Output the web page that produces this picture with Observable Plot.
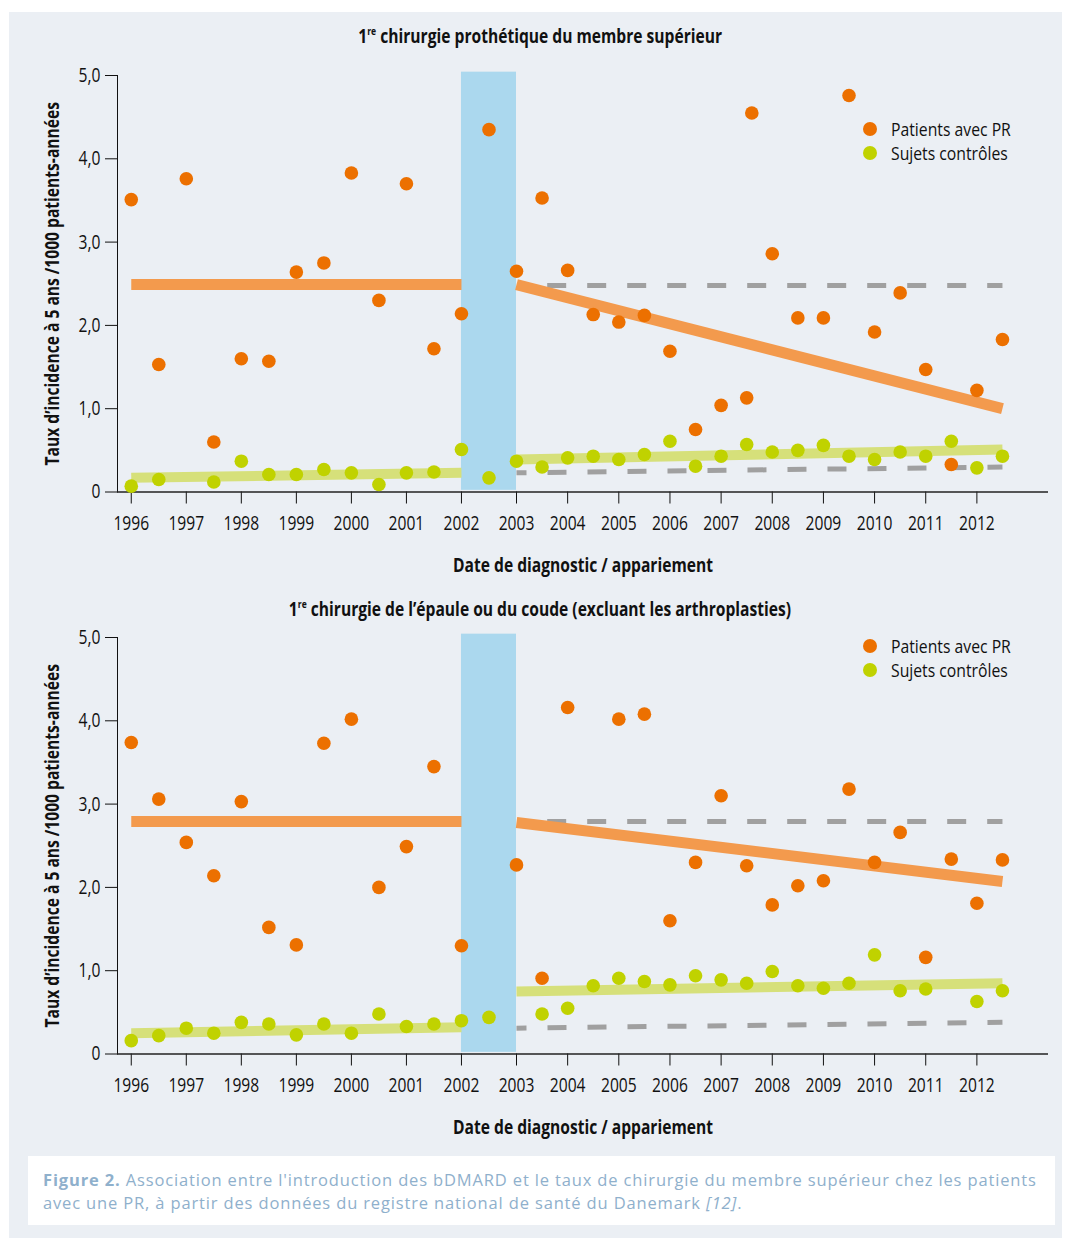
<!DOCTYPE html>
<html><head><meta charset="utf-8">
<script src="https://cdn.jsdelivr.net/npm/d3@7"></script>
<script src="https://cdn.jsdelivr.net/npm/@observablehq/plot@0.6"></script>
<style>
body{margin:0;background:#fff;width:1065px;height:1238px;position:relative;overflow:hidden}
#panel{position:absolute;left:9px;top:12px;width:1053px;height:1226px;background:#EBEFF4;
  font-family:"Open Sans",sans-serif;color:#111}
.title{position:absolute;left:0;width:1062px;text-align:center;font-weight:bold;font-size:20px;line-height:24px}
.title span{display:inline-block;transform:scaleX(0.78);transform-origin:center;white-space:nowrap}
.title sup{font-size:11px;vertical-align:8px;line-height:0}
.chart{position:absolute;left:0}
.legend{position:absolute;left:853px;font-size:17.5px;line-height:24px}
.legend div{position:relative;height:24px;white-space:nowrap}
.legend .dot{position:absolute;left:1px;top:5px;width:14px;height:14px;border-radius:50%}
.legend .txt{position:absolute;left:29px;top:0;display:inline-block;transform:scaleX(0.9);transform-origin:left center}
#caption{position:absolute;left:19px;top:1144px;width:1027px;height:69px;background:#fff;
  font-family:"Open Sans",sans-serif;font-size:16.5px;letter-spacing:0.85px;line-height:23px;color:#8FB0CC;
  box-sizing:border-box;padding:12px 0 0 15px;white-space:nowrap}
</style></head>
<body>
<div id="panel">
  <div class="title" style="top:12px"><span>1<sup>re</sup> chirurgie prothétique du membre supérieur</span></div>
  <div class="chart" id="c1" style="top:38px"></div>
  <div class="legend" style="top:105px"><div><span class="dot" style="background:#EC7000"></span><span class="txt">Patients avec PR</span></div><div><span class="dot" style="background:#C0D200"></span><span class="txt">Sujets contrôles</span></div></div>
  <div class="title" style="top:585px"><span>1<sup>re</sup> chirurgie de l’épaule ou du coude (excluant les arthroplasties)</span></div>
  <div class="chart" id="c2" style="top:599.5px"></div>
  <div class="legend" style="top:622px"><div><span class="dot" style="background:#EC7000"></span><span class="txt">Patients avec PR</span></div><div><span class="dot" style="background:#C0D200"></span><span class="txt">Sujets contrôles</span></div></div>
  <div id="caption"><b>Figure 2.</b> Association entre l'introduction des bDMARD et le taux de chirurgie du membre supérieur chez les patients<br>avec une PR, à partir des données du registre national de santé du Danemark <i>[12]</i>.</div>
</div>
<script>
// ---- data ----
const yearTicks = [1996,1997,1998,1999,2000,2001,2002,2003,2004,2005,2006,2007,2008,2009,2010,2011,2012];
const yValueTicks = [0,1,2,3,4,5];
const bandYears = [2002, 2003];

// Chart 1: 1re chirurgie prothétique du membre supérieur
const topPrX = [1996,1996.5,1997,1997.5,1998,1998.5,1999,1999.5,2000,2000.5,2001,2001.5,2002,2002.5,2003,2003.5,2004,2004.5,2005,2005.5,2006,2006.5,2007,2007.5,2007.6,2008,2008.5,2009,2009.5,2010,2010.5,2011,2011.5,2012,2012.5];
const topPrY = [3.51,1.53,3.76,0.60,1.60,1.57,2.64,2.75,3.83,2.30,3.70,1.72,2.14,4.35,2.65,3.53,2.66,2.13,2.04,2.12,1.69,0.75,1.04,1.13,4.55,2.86,2.09,2.09,4.76,1.92,2.39,1.47,0.33,1.22,1.83];
const topCtlX = [1996,1996.5,1997.5,1998,1998.5,1999,1999.5,2000,2000.5,2001,2001.5,2002,2002.5,2003,2003.5,2004,2004.5,2005,2005.5,2006,2006.5,2007,2007.5,2008,2008.5,2009,2009.5,2010,2010.5,2011,2011.5,2012,2012.5];
const topCtlY = [0.07,0.15,0.12,0.37,0.21,0.21,0.27,0.23,0.09,0.23,0.24,0.51,0.17,0.37,0.30,0.41,0.43,0.39,0.45,0.61,0.31,0.43,0.57,0.48,0.50,0.56,0.43,0.39,0.48,0.43,0.61,0.29,0.43];
const topTrendPrPre = [2.49, 2.49], topTrendPrPost = [2.49, 1.00];
const topTrendCtlPre = [0.17, 0.23], topTrendCtlPost = [0.39, 0.51];
const topExpectedPr = [2.48, 2.48], topExpectedCtl = [0.23, 0.30];

// Chart 2: 1re chirurgie de l'épaule ou du coude
const botPrX = [1996,1996.5,1997,1997.5,1998,1998.5,1999,1999.5,2000,2000.5,2001,2001.5,2002,2003,2003.5,2004,2005,2005.5,2006,2006.5,2007,2007.5,2008,2008.5,2009,2009.5,2010,2010.5,2011,2011.5,2012,2012.5];
const botPrY = [3.74,3.06,2.54,2.14,3.03,1.52,1.31,3.73,4.02,2.00,2.49,3.45,1.30,2.27,0.91,4.16,4.02,4.08,1.60,2.30,3.10,2.26,1.79,2.02,2.08,3.18,2.30,2.66,1.16,2.34,1.81,2.33];
const botCtlX = [1996,1996.5,1997,1997.5,1998,1998.5,1999,1999.5,2000,2000.5,2001,2001.5,2002,2002.5,2003.5,2004,2004.5,2005,2005.5,2006,2006.5,2007,2007.5,2008,2008.5,2009,2009.5,2010,2010.5,2011,2012,2012.5];
const botCtlY = [0.16,0.22,0.31,0.25,0.38,0.36,0.23,0.36,0.25,0.48,0.33,0.36,0.40,0.44,0.48,0.55,0.82,0.91,0.87,0.83,0.94,0.89,0.85,0.99,0.82,0.79,0.85,1.19,0.76,0.78,0.63,0.76];
const botTrendPrPre = [2.79, 2.79], botTrendPrPost = [2.78, 2.07];
const botTrendCtlPre = [0.25, 0.32], botTrendCtlPost = [0.75, 0.85];
const botExpectedPr = [2.79, 2.79], botExpectedCtl = [0.31, 0.38];

const preYears = [1996, 2002], postYears = [2003, 2012.5], expPrYears = [2003.6, 2012.5];
const yLabel = "Taux d’incidence à 5 ans /1000 patients-années";
const xLabel = "Date de diagnostic / appariement";

// ---- colours ----
const C = {pr:"#EC7000", prLine:"#F39A4D", ctl:"#C0D200", ctlLine:"#D6E07A", band:"#ABD8EE", dash:"#A0A0A0"};
const FONT = '"Open Sans",sans-serif';

const zip = (xs, ys) => xs.map((x, i) => ({x, y: ys[i]}));

function makeChart(d) {
  const seg = (xs, ys, opts) => Plot.line(zip(xs, ys), {x:"x", y:"y", strokeLinecap:"butt", ...opts});
  return Plot.plot({
    width: 1053, height: 530,
    marginLeft: 108, marginRight: 14, marginTop: 25, marginBottom: 88.5,
    style: {fontFamily: FONT, fontSize: "20px", color: "#111", background: "transparent", overflow: "visible"},
    x: {type: "linear", domain: [1995.75, 2003, 2013.4], range: [108, 507, 1039], ticks: yearTicks,
        tickFormat: d => String(d), tickSize: 12, tickPadding: 12, label: null},
    y: {domain: [0, 5], ticks: yValueTicks, tickSize: 12, tickPadding: 5, label: null, line: true,
        tickFormat: d => d === 0 ? "0" : d.toFixed(1).replace(".", ",")},
    marks: [
      Plot.rectY([bandYears], {x1: d => d[0], x2: d => d[1], y1: 0.02, y2: 5.04, fill: C.band}),
      seg(expPrYears, d.expPr, {stroke: C.dash, strokeWidth: 5, strokeDasharray: "19,21"}),
      seg(postYears, d.expCtl, {stroke: C.dash, strokeWidth: 5, strokeDasharray: "19,21", strokeDashoffset: 9}),
      seg(preYears, d.ctlPre, {stroke: C.ctlLine, strokeWidth: 10}),
      seg(postYears, d.ctlPost, {stroke: C.ctlLine, strokeWidth: 10}),
      seg(preYears, d.prPre, {stroke: C.prLine, strokeWidth: 11}),
      seg(postYears, d.prPost, {stroke: C.prLine, strokeWidth: 11}),
      Plot.ruleY([0], {stroke: "#222", strokeWidth: 1.5}),
      Plot.dot(zip(d.ctlX, d.ctlY), {x:"x", y:"y", r: 6.8, fill: C.ctl}),
      Plot.dot(zip(d.prX, d.prY), {x:"x", y:"y", r: 6.8, fill: C.pr}),
      Plot.text([yLabel], {frameAnchor: "left", rotate: -90, dx: -65, textAnchor: "middle", lineAnchor: "middle",
        fontWeight: "bold", fontSize: 20, fill: "#111"}),
      Plot.text([xLabel], {frameAnchor: "bottom", dy: 73.5, textAnchor: "middle", lineAnchor: "middle",
        fontWeight: "bold", fontSize: 20, fill: "#111"})
    ]
  });
}

// narrow the glyphs (the original uses a condensed typeface)
function condense(svg, k) {
  svg.querySelectorAll("text").forEach(t => {
    const L = t.getComputedTextLength();
    if (L > 0) {
      t.setAttribute("textLength", (L * k).toFixed(1));
      t.setAttribute("lengthAdjust", "spacingAndGlyphs");
    }
  });
}

const specs = [
  ["c1", {prX: topPrX, prY: topPrY, ctlX: topCtlX, ctlY: topCtlY,
    prPre: topTrendPrPre, prPost: topTrendPrPost, ctlPre: topTrendCtlPre, ctlPost: topTrendCtlPost,
    expPr: topExpectedPr, expCtl: topExpectedCtl}],
  ["c2", {prX: botPrX, prY: botPrY, ctlX: botCtlX, ctlY: botCtlY,
    prPre: botTrendPrPre, prPost: botTrendPrPost, ctlPre: botTrendCtlPre, ctlPost: botTrendCtlPost,
    expPr: botExpectedPr, expCtl: botExpectedCtl}]
];
for (const [id, d] of specs) {
  const svg = makeChart(d);
  document.getElementById(id).append(svg);
  condense(svg, 0.78);
}
</script>
</body></html>
